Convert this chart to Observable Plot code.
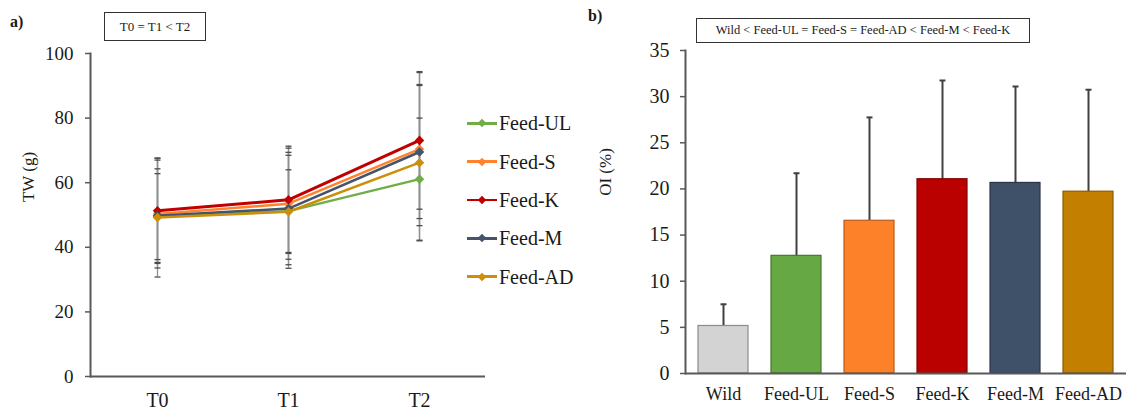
<!DOCTYPE html>
<html><head><meta charset="utf-8">
<script src="https://cdn.jsdelivr.net/npm/d3@7"></script>
<script src="https://cdn.jsdelivr.net/npm/@observablehq/plot@0.6"></script>
<style>
body{margin:0;background:#fff;}
#wrap, #wrap *{font-family:"Liberation Serif", serif;}
#wrap{position:relative;width:1126px;height:410px;overflow:hidden;background:#fff;color:#1a1a1a;}
.abs{position:absolute;white-space:nowrap;}
.box{position:absolute;border:1.5px solid #333;box-sizing:border-box;display:flex;align-items:center;justify-content:center;background:#fff;white-space:nowrap;}
.rot{position:absolute;white-space:nowrap;transform:translate(-50%,-50%) rotate(-90deg);font-size:17px;line-height:17px;}
.leg{position:absolute;display:flex;align-items:center;height:24px;font-size:20px;line-height:24px;}
.sw{position:relative;width:30px;height:2.5px;margin-right:2px;}
.sw i{position:absolute;left:12px;top:-1.75px;width:6px;height:6px;transform:rotate(45deg);}
</style></head><body>
<div id="wrap">
<div id="left" class="abs" style="left:0;top:0;width:560px;height:410px"></div>
<div id="right" class="abs" style="left:560px;top:0;width:566px;height:410px"></div>
<div class="abs" style="left:10px;top:14px;font-weight:bold;font-size:16px;line-height:16px">a)</div>
<div class="box" style="left:104px;top:12px;width:102px;height:29px;font-size:13px">T0 = T1 &lt; T2</div>
<div class="abs" style="left:588px;top:8px;font-weight:bold;font-size:16px;line-height:16px">b)</div>
<div class="box" style="left:696px;top:18px;width:334px;height:25px;font-size:12.5px">Wild &lt; Feed-UL = Feed-S = Feed-AD &lt; Feed-M &lt; Feed-K</div>
<div class="rot" style="left:28px;top:177px">TW (g)</div>
<div class="rot" style="left:605px;top:172px">OI (%)</div>
<div id="legend"></div>
</div>
<script>
// ---- Panel a) data ----
const times = ["T0", "T1", "T2"];
const series = ["Feed-UL", "Feed-S", "Feed-K", "Feed-M", "Feed-AD"];
const lineColors = ["#70ad47", "#ff822e", "#c00000", "#44546a", "#cc8f0a"];
const twFeedUL = [49.5, 51.2, 61.1];
const twFeedS  = [50.3, 53.5, 70.4];
const twFeedK  = [51.3, 54.7, 73.1];
const twFeedM  = [49.8, 52.0, 69.5];
const twFeedAD = [49.2, 51.0, 66.2];
const sdFeedUL = [13.3, 12.8, 18.9];
const sdFeedS  = [16.7, 17.2, 23.7];
const sdFeedK  = [16.3, 16.6, 21.3];
const sdFeedM  = [14.5, 17.4, 20.6];
const sdFeedAD = [18.4, 17.5, 24.2];
const yTicksTW = [0, 20, 40, 60, 80, 100];

// ---- Panel b) data ----
const oiCategories = ["Wild", "Feed-UL", "Feed-S", "Feed-K", "Feed-M", "Feed-AD"];
const oiMean = [5.15, 12.75, 16.55, 21.05, 20.65, 19.7];
const oiSD   = [2.35, 8.95, 11.2, 10.7, 10.45, 11.05];
const barFill   = ["#d3d3d3", "#65a844", "#fd8128", "#bb0000", "#3f5069", "#c27f00"];
const barStroke = ["#8c8c8c", "#45782c", "#b95c1a", "#800000", "#2a3547", "#8a5a00"];
const yTicksOI = [0, 5, 10, 15, 20, 25, 30, 35];

const font = "Liberation Serif, serif";
const axisCol = "#595959";
const cap = {draw(ctx) { ctx.moveTo(-3, 0); ctx.lineTo(3, 0); }};

const twMeans = [twFeedUL, twFeedS, twFeedK, twFeedM, twFeedAD];
const twSDs = [sdFeedUL, sdFeedS, sdFeedK, sdFeedM, sdFeedAD];
const rows = [];
series.forEach((s, i) => times.forEach((t, j) => rows.push({series: s, time: t, mean: twMeans[i][j], sd: twSDs[i][j]})));

const seriesMarks = [];
series.forEach((s, i) => {
  const d = rows.filter(r => r.series === s);
  seriesMarks.push(Plot.line(d, {x: "time", y: "mean", stroke: lineColors[i], strokeWidth: s === "Feed-K" ? 3 : 2.5}));
  seriesMarks.push(Plot.dot(d, {x: "time", y: "mean", fill: lineColors[i], symbol: "diamond2", r: 4.3}));
});

const left = Plot.plot({
  width: 560, height: 410,
  marginLeft: 90, marginRight: 75, marginTop: 53, marginBottom: 34,
  style: {fontFamily: font, fontSize: "19px", color: "#1a1a1a", background: "transparent", overflow: "visible"},
  x: {type: "point", domain: times, padding: 0.5, label: null},
  y: {domain: [0, 100], label: null},
  marks: [
    Plot.ruleX(rows, {x: "time", y1: d => d.mean - d.sd, y2: d => d.mean + d.sd, stroke: "#8f8f8f", strokeWidth: 1.3}),
    Plot.dot(rows, {x: "time", y: d => d.mean + d.sd, symbol: cap, fill: "none", stroke: "#4d4d4d", strokeWidth: 1.3}),
    Plot.dot(rows, {x: "time", y: d => d.mean - d.sd, symbol: cap, fill: "none", stroke: "#4d4d4d", strokeWidth: 1.3}),
    ...seriesMarks,
    Plot.ruleY([0], {stroke: axisCol, strokeWidth: 2}),
    Plot.frame({anchor: "left", stroke: axisCol, strokeWidth: 2}),
    Plot.axisY({ticks: yTicksTW, tickSize: 5, tickPadding: 12, stroke: axisCol, strokeWidth: 1.5, fill: "#1a1a1a", fontSize: 19, fontFamily: font, label: null}),
    Plot.axisX({tickSize: 0, tickPadding: 16, fill: "#1a1a1a", fontSize: 20, fontFamily: font, label: null})
  ]
});
document.getElementById("left").appendChild(left);

const bars = oiCategories.map((c, i) => ({cat: c, mean: oiMean[i], sd: oiSD[i], fill: barFill[i], stroke: barStroke[i]}));
const right = Plot.plot({
  width: 566, height: 410,
  marginLeft: 125, marginRight: 0, marginTop: 50, marginBottom: 37,
  style: {fontFamily: font, fontSize: "19px", color: "#1a1a1a", background: "transparent", overflow: "visible"},
  x: {type: "band", domain: oiCategories, paddingInner: 0.317, paddingOuter: 0.15, label: null},
  y: {domain: [0, 35], label: null},
  color: {type: "identity"},
  marks: [
    Plot.ruleX(bars, {x: "cat", y1: "mean", y2: d => d.mean + d.sd, stroke: "#404040", strokeWidth: 2}),
    Plot.dot(bars, {x: "cat", y: d => d.mean + d.sd, symbol: cap, fill: "none", stroke: "#404040", strokeWidth: 2}),
    Plot.barY(bars, {x: "cat", y: "mean", fill: "fill", stroke: "stroke", strokeWidth: 1.2}),
    Plot.ruleY([0], {stroke: axisCol, strokeWidth: 2}),
    Plot.frame({anchor: "left", stroke: axisCol, strokeWidth: 2}),
    Plot.axisY({ticks: yTicksOI, tickSize: 5, tickPadding: 11, stroke: axisCol, strokeWidth: 1.5, fill: "#1a1a1a", fontSize: 20, fontFamily: font, label: null}),
    Plot.axisX({tickSize: 0, tickPadding: 14, fill: "#1a1a1a", fontSize: 18, fontFamily: font, label: null})
  ]
});
document.getElementById("right").appendChild(right);

// legend
const leg = document.getElementById("legend");
series.forEach((s, i) => {
  const el = document.createElement("div");
  el.className = "leg";
  el.style.left = "467px";
  el.style.top = (123.3 + 38.35 * i - 12) + "px";
  el.innerHTML = `<span class="sw" style="background:${lineColors[i]}"><i style="background:${lineColors[i]}"></i></span><span>${s}</span>`;
  leg.appendChild(el);
});
</script>
</body></html>
